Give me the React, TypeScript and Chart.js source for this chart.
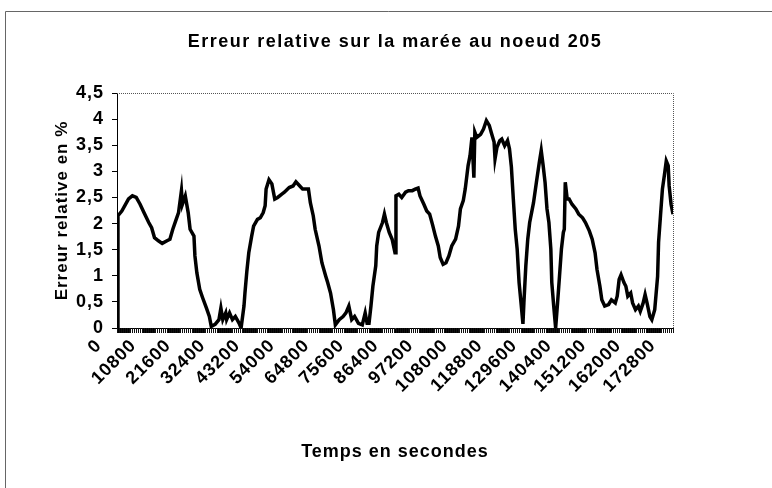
import React, { useEffect, useRef } from "react";
import { Chart, registerables } from "chart.js";

Chart.register(...registerables);

const TITLE = "Erreur relative sur la marée au noeud 205";
const X_TITLE = "Temps en secondes";
const Y_TITLE = "Erreur relative en %";

const xLabelValues = [
  0, 10800, 21600, 32400, 43200, 54000, 64800, 75600, 86400, 97200, 108000,
  118800, 129600, 140400, 151200, 162000, 172800,
];
const yTickValues = [0, 0.5, 1, 1.5, 2, 2.5, 3, 3.5, 4, 4.5];
const X_MAX = 173400;
const TICK_STEP = 600;

const times = [
  0, 300, 1500, 2700, 3600, 4800, 6000, 7200, 8400, 9900, 10800, 11700, 12900,
  14100, 15600, 16500, 17400, 18300, 19200, 20100, 20400, 21300, 22200, 22800,
  24000, 24300, 24900, 25800, 26700, 27900, 28800, 29400, 30600, 31800, 32400,
  33000, 33900, 34200, 35100, 36000, 36900, 38100, 38700, 39600, 39900, 40500,
  41100, 42000, 42600, 43800, 44700, 45600, 46200, 46500, 47400, 48300, 49200,
  50100, 51300, 52200, 53700, 54900, 55800, 57000, 57900, 59100, 59700, 60300,
  61200, 61800, 63000, 63900, 65100, 65700, 66600, 67500, 68100, 69300, 70500,
  71400, 72300, 73200, 74100, 75300, 76500, 77400, 78000, 78600, 79200, 79800,
  80700, 81000, 81600, 82800, 83400, 84000, 84900, 85800, 86700, 87000, 87900,
  88800, 90000, 90900, 92100, 93000, 93900, 94500, 95700, 96600, 97500, 98400,
  99300, 100200, 100800, 101700, 102600, 103500, 104400, 105600, 106500, 107100,
  108000, 108600, 109500, 110100, 110700, 111300, 111600, 112200, 113400, 114300,
  115200, 116100, 116700, 117600, 117900, 118500, 119400, 120000, 120900, 121800,
  122400, 123000, 123600, 124200, 124800, 125400, 126000, 126600, 126900, 127500,
  128100, 128700, 129300, 129900, 130800, 131700, 132300, 132900, 133500, 134100,
  134700, 135300, 135600, 136200, 136800, 137400, 138000, 138600, 139200, 139500,
  139800, 140400, 141000, 141900, 143100, 144000, 145200, 146100, 147300, 148200,
  149100, 149700, 150600, 151200, 152100, 153300, 154200, 155400, 156000, 156600,
  157200, 158100, 158700, 159300, 160200, 160800, 161700, 162600, 163200, 164100,
  164700, 165300, 166200, 166800, 167700, 168600, 168900, 169500, 170100, 170700,
  171300, 171900, 172200, 172800, 173400,
];

const errors = [
  0, 2.15, 2.24, 2.37, 2.47, 2.53, 2.5, 2.37, 2.21, 2.02, 1.92, 1.73, 1.67,
  1.62, 1.67, 1.7, 1.89, 2.05, 2.21, 2.63, 2.37, 2.53, 2.21, 1.89,
  1.76, 1.38, 1.06, 0.74, 0.58, 0.38, 0.22, 0.03, 0.07, 0.16, 0.38,
  0.16, 0.29, 0.16, 0.29, 0.16, 0.22, 0.09, 0.0, 0.42, 0.67, 1.09,
  1.44, 1.76, 1.95, 2.08, 2.11, 2.21, 2.34, 2.66, 2.84, 2.76, 2.47,
  2.5, 2.56, 2.6, 2.69, 2.72, 2.8, 2.72, 2.66, 2.66, 2.66, 2.4,
  2.15, 1.89, 1.57, 1.25, 0.99, 0.87, 0.67, 0.35, 0.06, 0.16, 0.22,
  0.29, 0.42, 0.16, 0.22, 0.09, 0.06, 0.29, 0.09, 0.09, 0.42, 0.8,
  1.19, 1.57, 1.83, 2.02, 2.18, 2.02, 1.83, 1.7, 1.44, 2.53, 2.56,
  2.5, 2.6, 2.63, 2.63, 2.66, 2.68, 2.53, 2.37, 2.24, 2.18, 1.98,
  1.76, 1.57, 1.35, 1.22, 1.25, 1.38, 1.57, 1.7, 1.95, 2.28,
  2.44, 2.66, 3.11, 3.3, 3.65, 2.88, 3.75, 3.65, 3.71, 3.81,
  3.97, 3.88, 3.75, 3.56, 3.24, 3.46, 3.59, 3.62, 3.49, 3.59,
  3.43, 3.08, 2.47, 1.89, 1.51, 0.87, 0.48, 0.08, 0.48, 1.19,
  1.7, 2.02, 2.21, 2.4, 2.79, 3.17, 3.4, 3.11, 2.79, 2.28,
  2.02, 1.51, 0.87, 0.42, 0.0, 0.48, 0.99, 1.51, 1.83, 1.89,
  2.79, 2.47, 2.47, 2.37, 2.28, 2.18, 2.11, 2.02, 1.86, 1.7,
  1.44, 1.12, 0.8, 0.54, 0.42, 0.45, 0.54, 0.48, 0.61, 0.93,
  1.02, 0.87, 0.8, 0.61, 0.67, 0.48, 0.35, 0.42, 0.32, 0.48,
  0.64, 0.48, 0.22, 0.16, 0.35, 0.99, 1.64, 2.15, 2.66, 2.92,
  3.2, 3.11, 2.72, 2.37, 2.18,
];

const FONT_FAMILY = '"Liberation Sans", Arial, Helvetica, sans-serif';

const decorPlugin = {
  id: "decor",
  beforeDraw(chart: any) {
    (chart.ctx as any).letterSpacing = "1px";
  },
  afterDraw(chart: any) {
    const { ctx, chartArea } = chart;
    const xScale = chart.scales.x;
    ctx.save();
    // dense category tick marks below the x axis
    ctx.strokeStyle = "#111";
    ctx.lineWidth = 1;
    ctx.beginPath();
    for (const tk of xScale.ticks) {
      const px = Math.round(xScale.getPixelForValue(tk.value)) + 0.5;
      ctx.moveTo(px, chartArea.bottom);
      ctx.lineTo(px, chartArea.bottom + 5);
    }
    ctx.stroke();
    // plot area top/right border
    ctx.strokeStyle = "#555";
    ctx.setLineDash([1, 1]);
    ctx.beginPath();
    ctx.moveTo(chartArea.left, chartArea.top + 0.5);
    ctx.lineTo(chartArea.right + 0.5, chartArea.top + 0.5);
    ctx.lineTo(chartArea.right + 0.5, chartArea.bottom);
    ctx.stroke();
    ctx.setLineDash([]);
    // chart frame
    ctx.strokeStyle = "#666";
    ctx.beginPath();
    ctx.moveTo(5.5, 488);
    ctx.lineTo(5.5, 11.5);
    ctx.lineTo(772, 11.5);
    ctx.stroke();
    // title
    ctx.fillStyle = "#000";
    ctx.font = `bold 18px ${FONT_FAMILY}`;
    ctx.textAlign = "center";
    ctx.textBaseline = "middle";
    (ctx as any).letterSpacing = "1.5px";
    ctx.fillText(TITLE, (chartArea.left + chartArea.right) / 2, 42);
    ctx.restore();
    (ctx as any).letterSpacing = "0px";
  },
};

export default function App() {
  const canvasRef = useRef<HTMLCanvasElement | null>(null);

  useEffect(() => {
    const canvas = canvasRef.current;
    if (!canvas) return;
    const labelSet = new Set(xLabelValues);
    const tickValues: number[] = [];
    for (let v = 0; v <= X_MAX; v += TICK_STEP) tickValues.push(v);
    const tickFont = { family: FONT_FAMILY, size: 18, weight: "bold" as const };
    const yTitleFont = { family: FONT_FAMILY, size: 17, weight: "bold" as const };
    const xTitleFont = { family: FONT_FAMILY, size: 18, weight: "bold" as const };

    const chart = new Chart(canvas, {
      type: "line",
      data: {
        datasets: [
          {
            data: times.map((t, i) => ({ x: t, y: errors[i] })),
            borderColor: "#000",
            borderWidth: 3.5,
            pointRadius: 0,
            tension: 0,
            fill: false,
          },
        ],
      },
      options: {
        animation: false,
        responsive: false,
        events: [],
        layout: { padding: { left: 0, top: 93, right: 99, bottom: 0 } },
        plugins: {
          legend: { display: false },
          tooltip: { enabled: false },
          title: { display: false },
        },
        scales: {
          x: {
            type: "linear",
            min: 0,
            max: X_MAX,
            afterBuildTicks: (scale: any) => {
              scale.ticks = tickValues.map((v) => ({ value: v }));
            },
            afterFit: (scale: any) => {
              scale.height = 160;
            },
            ticks: {
              autoSkip: false,
              minRotation: 45,
              maxRotation: 45,
              padding: 2,
              labelOffset: -18,
              color: "#000",
              font: tickFont,
              callback: (v: any) => (labelSet.has(Number(v)) ? String(v) : ""),
            },
            grid: {
              drawOnChartArea: false,
              tickLength: 5,
              tickWidth: 1,
              color: "#000",
            },
            border: { display: true, color: "#000", width: 1 },
            title: {
              display: true,
              text: X_TITLE,
              color: "#000",
              font: xTitleFont,
              padding: { top: 0, bottom: 25 },
            },
          },
          y: {
            min: 0,
            max: 4.5,
            afterBuildTicks: (scale: any) => {
              scale.ticks = yTickValues.map((v) => ({ value: v }));
            },
            afterFit: (scale: any) => {
              scale.width = 117;
            },
            ticks: {
              padding: 8,
              color: "#000",
              font: tickFont,
              callback: (v: any) => String(v).replace(".", ","),
            },
            grid: {
              drawOnChartArea: false,
              tickLength: 5,
              color: "#000",
            },
            border: { display: true, color: "#000", width: 1 },
            title: {
              display: true,
              text: Y_TITLE,
              color: "#000",
              font: yTitleFont,
              padding: { top: 52, bottom: 0 },
            },
          },
        },
      },
      plugins: [decorPlugin],
    });
    return () => chart.destroy();
  }, []);

  return (
    <div style={{ position: "fixed", left: 0, top: 0, width: 772, height: 488, background: "#fff" }}>
      <canvas ref={canvasRef} width={772} height={488} style={{ width: 772, height: 488, display: "block" }} />
    </div>
  );
}
